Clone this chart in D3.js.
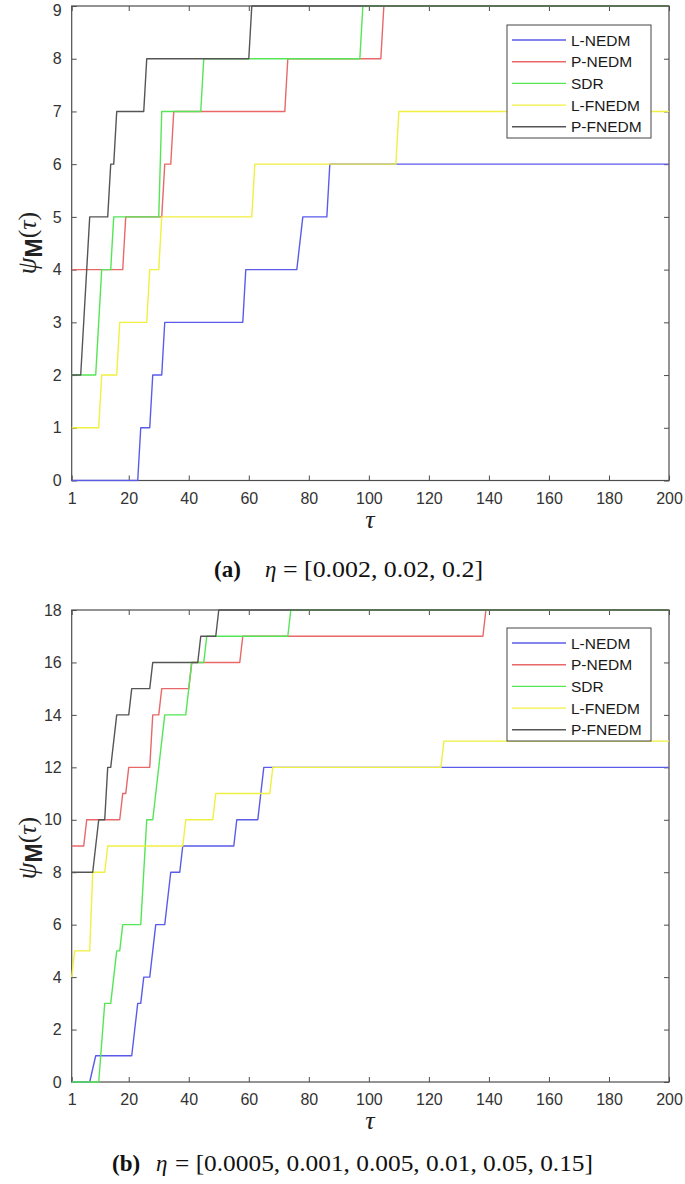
<!DOCTYPE html>
<html>
<head>
<meta charset="utf-8">
<script src="https://cdn.jsdelivr.net/npm/d3@7"></script>
<style>
  html, body { margin: 0; padding: 0; background: #fff; }
  svg { display: block; }
</style>
</head>
<body>
<svg id="chart" width="685" height="1184"></svg>
<script>
// ---------------- DATA ----------------
const seriesNames = ["L-NEDM", "P-NEDM", "SDR", "L-FNEDM", "P-FNEDM"];
const seriesColors = ["#5b5bea", "#e86868", "#55e655", "#f0f040", "#555555"];
const xTicks = [1, 20, 40, 60, 80, 100, 120, 140, 160, 180, 200];
const yTicksA = [0, 1, 2, 3, 4, 5, 6, 7, 8, 9];
const yTicksB = [0, 2, 4, 6, 8, 10, 12, 14, 16, 18];

// panel (a): [tau, psi] breakpoints
const aLNEDM  = [[1,0],[23,0],[24,1],[27,1],[28,2],[31,2],[32,3],[58,3],[59,4],[76,4],[78,5],[86,5],[87,6],[200,6]];
const aPNEDM  = [[1,4],[18,4],[19,5],[31,5],[32,6],[34,6],[35,7],[72,7],[73,8],[104,8],[105,9],[200,9]];
const aSDR    = [[1,2],[9,2],[11,4],[14,4],[15,5],[30,5],[31,7],[44,7],[45,8],[97,8],[98,9],[200,9]];
const aLFNEDM = [[1,1],[10,1],[11,2],[16,2],[17,3],[26,3],[27,4],[30,4],[31,5],[61,5],[62,6],[109,6],[110,7],[200,7]];
const aPFNEDM = [[1,2],[4,2],[7,5],[13,5],[14,6],[15,6],[16,7],[25,7],[26,8],[60,8],[61,9],[200,9]];

// panel (b)
const bLNEDM  = [[1,0],[7,0],[9,1],[21,1],[23,3],[24,3],[25,4],[27,4],[29,6],[32,6],[34,8],[37,8],[38,9],[55,9],[56,10],[63,10],[65,12],[200,12]];
const bPNEDM  = [[1,9],[5,9],[6,10],[17,10],[18,11],[19,11],[20,12],[27,12],[28,14],[30,14],[31,15],[40,15],[41,16],[57,16],[58,17],[138,17],[139,18],[200,18]];
const bSDR    = [[1,0],[10,0],[12,3],[14,3],[16,5],[17,5],[18,6],[24,6],[26,10],[28,10],[32,14],[39,14],[40,15],[41,16],[45,16],[46,17],[73,17],[74,18],[200,18]];
const bLFNEDM = [[1,4],[2,5],[7,5],[8,8],[12,8],[13,9],[38,9],[39,10],[48,10],[49,11],[67,11],[68,12],[124,12],[125,13],[200,13]];
const bPFNEDM = [[1,8],[8,8],[10,10],[12,10],[13,12],[14,12],[16,14],[20,14],[21,15],[27,15],[28,16],[43,16],[44,17],[49,17],[50,18],[200,18]];

const captionA = { tag: "(a)", sym: "η", eq: "= [0.002, 0.02, 0.2]" };
const captionB = { tag: "(b)", sym: "η", eq: "= [0.0005, 0.001, 0.005, 0.01, 0.05, 0.15]" };

// ---------------- DRAW ----------------
const svg = d3.select("#chart");
const axisColor = "#4d4d4d";
const labelFont = "'Liberation Sans', Arial, sans-serif";
const serif = "'Liberation Serif', 'DejaVu Serif', serif";

function panel(cfg) {
  const left = 71.7, right = 669;
  const x = d3.scaleLinear().domain([1, 200]).range([left, right]);
  const y = d3.scaleLinear().domain([0, cfg.ymax]).range([cfg.bottom, cfg.top]);
  const g = svg.append("g");
  const clipId = "clip" + cfg.id;
  svg.append("clipPath").attr("id", clipId).append("rect")
    .attr("x", left - 1).attr("y", cfg.top - 1)
    .attr("width", right - left + 2).attr("height", cfg.bottom - cfg.top + 2);

  // box
  g.append("rect").attr("x", left).attr("y", cfg.top)
    .attr("width", right - left).attr("height", cfg.bottom - cfg.top)
    .attr("fill", "none").attr("stroke", axisColor).attr("stroke-width", 1.2);

  // axes
  const tickLen = 5;
  const xb = d3.axisBottom(x).tickValues(xTicks).tickSizeInner(-tickLen).tickSizeOuter(0).tickPadding(12);
  const xt = d3.axisTop(x).tickValues(xTicks).tickSizeInner(-tickLen).tickSizeOuter(0).tickFormat("");
  const yl = d3.axisLeft(y).tickValues(cfg.yTicks).tickSizeInner(-tickLen).tickSizeOuter(0).tickPadding(10);
  const yr = d3.axisRight(y).tickValues(cfg.yTicks).tickSizeInner(-tickLen).tickSizeOuter(0).tickFormat("");

  const axes = [
    g.append("g").attr("transform", `translate(0,${cfg.bottom})`).call(xb),
    g.append("g").attr("transform", `translate(0,${cfg.top})`).call(xt),
    g.append("g").attr("transform", `translate(${left},0)`).call(yl),
    g.append("g").attr("transform", `translate(${right},0)`).call(yr)
  ];
  axes.forEach(a => {
    a.select(".domain").remove();
    a.selectAll("line").attr("stroke", axisColor).attr("stroke-width", 1);
    a.selectAll("text").attr("fill", "#333").style("font-family", labelFont).style("font-size", "16px");
  });
  // keep the topmost y label inside the page
  axes[2].selectAll(".tick text").filter(d => y(d) < 10).attr("dy", "0.62em");

  // lines
  const line = d3.line().x(d => x(d[0])).y(d => y(d[1]));
  const lg = g.append("g").attr("clip-path", `url(#${clipId})`);
  cfg.series.forEach((s, i) => {
    lg.append("path").datum(s).attr("d", line)
      .attr("fill", "none").attr("stroke", seriesColors[i]).attr("stroke-width", 1.4)
      .attr("stroke-linejoin", "round");
  });

  // legend
  const lgx = 507, lgw = 144, lgh = 113;
  const leg = g.append("g").attr("transform", `translate(${lgx},${cfg.legTop})`);
  leg.append("rect").attr("width", lgw).attr("height", lgh).attr("fill", "#fff")
    .attr("stroke", "#444").attr("stroke-width", 1);
  seriesNames.forEach((n, i) => {
    const yy = 15 + i * 21.7;
    leg.append("line").attr("x1", 5).attr("x2", 59).attr("y1", yy).attr("y2", yy)
      .attr("stroke", seriesColors[i]).attr("stroke-width", 1.4);
    leg.append("text").attr("x", 64).attr("y", yy).attr("dy", "0.36em")
      .style("font-family", labelFont).style("font-size", "15.5px").attr("fill", "#1a1a1a").text(n);
  });

  // y label
  const yl2 = svg.append("text")
    .attr("transform", `translate(36,${cfg.ylabY}) rotate(-90)`)
    .attr("text-anchor", "middle").attr("fill", "#222");
  yl2.append("tspan").style("font-family", serif).style("font-style", "italic").style("font-size", "27px").text("ψ");
  yl2.append("tspan").attr("dy", 6).style("font-family", labelFont).style("font-weight", "bold").style("font-size", "23px").text("M");
  yl2.append("tspan").attr("dy", -6).style("font-family", serif).style("font-size", "26px").text("(");
  yl2.append("tspan").style("font-family", serif).style("font-style", "italic").style("font-size", "26px").text("τ");
  yl2.append("tspan").style("font-family", serif).style("font-size", "26px").text(")");

  // x label
  svg.append("text").attr("x", 370).attr("y", cfg.bottom + 47).attr("text-anchor", "middle")
    .style("font-family", serif).style("font-style", "italic").style("font-size", "26px").attr("fill", "#222").text("τ");

  // caption
  svg.append("text").attr("x", cfg.capX).attr("y", cfg.capY)
    .style("font-family", serif).style("font-size", "23px").style("font-weight", "bold").attr("fill", "#111")
    .text(cfg.caption.tag);
  svg.append("text").attr("x", cfg.symX).attr("y", cfg.capY)
    .style("font-family", serif).style("font-size", "23px").style("font-style", "italic").attr("fill", "#111")
    .text(cfg.caption.sym);
  svg.append("text").attr("x", cfg.eqX).attr("y", cfg.capY)
    .style("font-family", serif).style("font-size", "23px").attr("fill", "#111")
    .attr("textLength", cfg.eqW).attr("lengthAdjust", "spacingAndGlyphs")
    .text(cfg.caption.eq);
}

panel({ id: "a", top: 6, bottom: 480.5, ymax: 9, yTicks: yTicksA,
  series: [aLNEDM, aPNEDM, aSDR, aLFNEDM, aPFNEDM],
  legTop: 25, ylabY: 243, capX: 214, symX: 265, eqX: 283, eqW: 200, capY: 577, caption: captionA });

panel({ id: "b", top: 610, bottom: 1082, ymax: 18, yTicks: yTicksB,
  series: [bLNEDM, bPNEDM, bSDR, bLFNEDM, bPFNEDM],
  legTop: 628, ylabY: 848, capX: 112, symX: 156, eqX: 175, eqW: 418, capY: 1171, caption: captionB });
</script>
</body>
</html>
